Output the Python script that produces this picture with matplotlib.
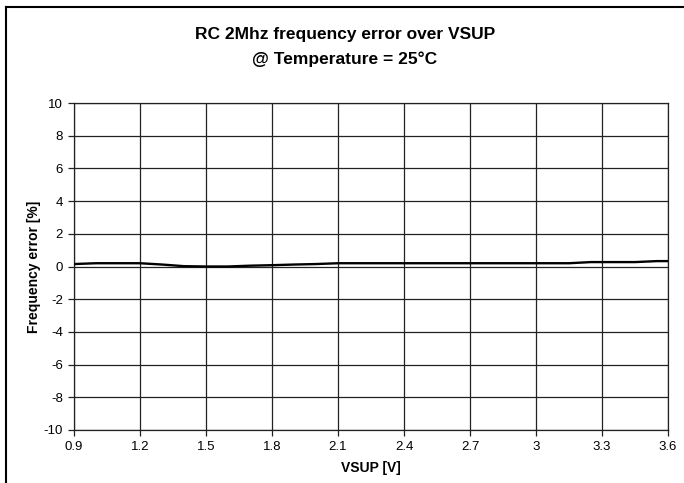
import matplotlib
matplotlib.use("Agg")
import matplotlib.pyplot as plt
from matplotlib.lines import Line2D

plt.rcParams['font.family'] = ['Liberation Sans', 'DejaVu Sans']
plt.rcParams['axes.unicode_minus'] = False

# Supply voltage sweep [V] and measured frequency error [%]
vsup = [0.9, 1.0, 1.1, 1.2, 1.3, 1.4, 1.5, 1.6, 1.7, 1.8, 1.9, 2.0, 2.1,
        2.2, 2.4, 2.6, 2.8, 3.0, 3.15, 3.25, 3.35, 3.45, 3.55, 3.6]
freq_err = [0.15, 0.2, 0.2, 0.2, 0.12, 0.02, 0.0, 0.0, 0.05, 0.08, 0.12, 0.15, 0.2,
            0.2, 0.2, 0.2, 0.2, 0.2, 0.2, 0.27, 0.27, 0.27, 0.33, 0.33]

xticks = [0.9, 1.2, 1.5, 1.8, 2.1, 2.4, 2.7, 3.0, 3.3, 3.6]
xticklabels = ["0.9", "1.2", "1.5", "1.8", "2.1", "2.4", "2.7", "3", "3.3", "3.6"]
yticks = list(range(-10, 11, 2))

fig = plt.figure(figsize=(6.84, 4.83), dpi=100)
ax = fig.add_axes([74 / 684, 1 - 430 / 483, (668 - 74) / 684, (430 - 103) / 483])

ax.plot(vsup, freq_err, color="black", lw=1.7, zorder=3)

ax.set_xlim(0.9, 3.6)
ax.set_ylim(-10, 10)
ax.set_xticks(xticks)
ax.set_xticklabels(xticklabels)
ax.set_yticks(yticks)
ax.grid(True, color="#222222", lw=0.9)
ax.set_axisbelow(True)
for s in ax.spines.values():
    s.set_color("#222222")
    s.set_linewidth(0.9)
ax.tick_params(direction="out", length=4, width=0.9, color="#222222",
               labelsize=9.5, pad=4)

ax.set_xlabel("VSUP [V]", fontsize=10, fontweight="bold", labelpad=6)
ax.set_ylabel("Frequency error [%]", fontsize=10, fontweight="bold", labelpad=2)

fig.text(345 / 684, 1 - 34 / 483, "RC 2Mhz frequency error over VSUP",
         ha="center", va="center", fontsize=12.5, fontweight="bold")
fig.text(345 / 684, 1 - 59 / 483, "@ Temperature = 25°C",
         ha="center", va="center", fontsize=12.5, fontweight="bold")

# Chart frame (left and top edges)
fig.add_artist(Line2D([6 / 684, 6 / 684], [0, 1 - 7 / 483], color="black", lw=1.5,
                      transform=fig.transFigure))
fig.add_artist(Line2D([6 / 684, 1], [1 - 7 / 483, 1 - 7 / 483], color="black", lw=1.5,
                      transform=fig.transFigure))

fig.savefig("out.png", dpi=100)
